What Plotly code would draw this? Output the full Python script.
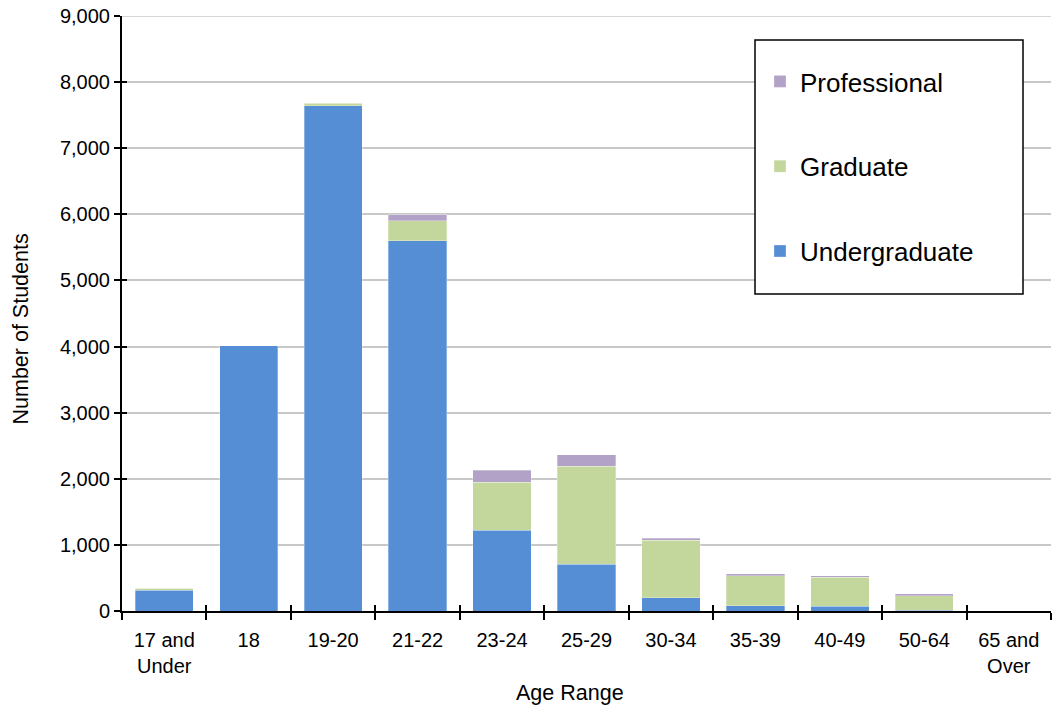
import plotly.graph_objects as go

categories = ["17 and<br>Under", "18", "19-20", "21-22", "23-24", "25-29",
              "30-34", "35-39", "40-49", "50-64", "65 and<br>Over"]
undergraduate = [312, 4010, 7645, 5600, 1225, 705, 197, 78, 75, 10, 4]
graduate = [30, 5, 35, 300, 720, 1485, 877, 455, 435, 220, 2]
professional = [3, 0, 5, 90, 182, 175, 26, 27, 25, 30, 0]
y_max = 9000
y_step = 1000

colors = {"Undergraduate": "#558ED5", "Graduate": "#C3D69B", "Professional": "#B3A2C7"}
legend_rank = {"Professional": 1, "Graduate": 2, "Undergraduate": 3}
font_family = "Liberation Sans, Arial, sans-serif"
grid_color = "#C8C8C8"

W, H = 1052, 709
L, R, T, B = 122, 1, 16, 98
pw, ph = W - L - R, H - T - B  # 929 x 595
PX0, PY1 = L, H - B


def px(xp):
    return (xp - PX0) / pw


def py(yp):
    return (PY1 - yp) / ph


fig = go.Figure()
for name, vals in [("Undergraduate", undergraduate), ("Graduate", graduate),
                   ("Professional", professional)]:
    fig.add_trace(go.Bar(
        x=categories, y=vals, name=name, legendgroup=name, legendrank=legend_rank[name],
        marker=dict(color=colors[name], line=dict(color="rgba(255,255,255,0.6)", width=0.5)),
    ))

# invisible trace so the overlay axes (inner half of crossing ticks) are drawn
fig.add_trace(go.Bar(x=categories, y=undergraduate, xaxis="x2", yaxis="y2",
                     opacity=0, showlegend=False, hoverinfo="skip"))

fig.update_layout(
    barmode="stack",
    bargap=0.31,
    width=W, height=H,
    margin=dict(l=L, r=R, t=T, b=B, autoexpand=False),
    plot_bgcolor="white", paper_bgcolor="white",
    font=dict(family=font_family, size=20, color="black"),
    legend=dict(
        x=px(760), y=py(58), xanchor="left", yanchor="top",
        traceorder="grouped", tracegroupgap=48,
        font=dict(size=26, family=font_family),
        bgcolor="rgba(0,0,0,0)", borderwidth=0,
        itemwidth=30,
    ),
    shapes=[
        # top gridline (plotly omits the one on the plot edge)
        dict(type="line", xref="paper", yref="y", x0=0, x1=1, y0=y_max, y1=y_max,
             line=dict(color=grid_color, width=1.5), layer="below"),
        dict(type="rect", xref="paper", yref="paper",
             x0=px(755), x1=px(1023), y0=py(294), y1=py(40),
             line=dict(color="black", width=1.5), fillcolor="white", layer="above"),
    ],
    annotations=[
        dict(text="Number of Students", xref="paper", yref="paper",
             x=px(20), y=py(329.5), xanchor="center", yanchor="middle",
             textangle=-90, showarrow=False, font=dict(size=21.5)),
        dict(text="Age Range", xref="paper", yref="paper",
             x=px(569.5), y=py(693), xanchor="center", yanchor="middle",
             showarrow=False, font=dict(size=21.5)),
    ],
    xaxis=dict(
        showline=True, linecolor="black", linewidth=2,
        ticks="outside", ticklen=7, tickwidth=2, tickcolor="black",
        tickson="boundaries", tickfont=dict(size=20), automargin=False,
        ticklabelstandoff=10,
    ),
    yaxis=dict(
        range=[0, y_max], tick0=0, dtick=y_step, tickformat=",d",
        showline=True, linecolor="black", linewidth=2,
        ticks="outside", ticklen=6, tickwidth=2, tickcolor="black",
        showgrid=True, gridcolor=grid_color, gridwidth=1.5,
        zeroline=False, automargin=False, ticklabeloverflow="allow",
        tickfont=dict(size=20),
    ),
    xaxis2=dict(overlaying="x", anchor="y2", type="category",
                categoryarray=categories, categoryorder="array",
                range=[-0.5, len(categories) - 0.5], side="bottom",
                showticklabels=False, ticks="inside", ticklen=6, tickwidth=2,
                tickcolor="black", tickson="boundaries", showgrid=False,
                showline=False, zeroline=False, automargin=False),
    yaxis2=dict(overlaying="y", anchor="x2", range=[0, y_max], tick0=0, dtick=y_step,
                side="left",
                showticklabels=False, ticks="inside", ticklen=5, tickwidth=2,
                tickcolor="black", showgrid=False, showline=False, zeroline=False,
                automargin=False),
)

fig.write_html("out.html", config={"displayModeBar": False},
               post_script="document.body.style.margin='0';document.body.style.overflow='hidden';")
